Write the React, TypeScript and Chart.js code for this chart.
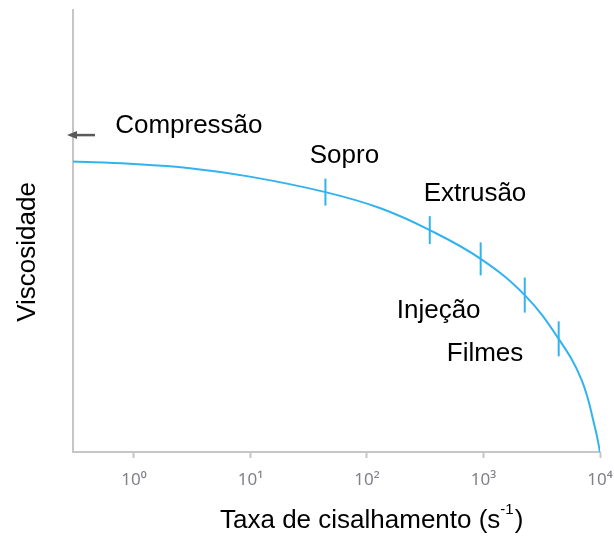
import { useEffect, useRef } from "react";
import { Chart, registerables } from "chart.js";

Chart.register(...registerables);

// flow curve: shear rate (s^-1) vs relative viscosity
const curveRate = [0.3, 0.92, 3.02, 9.9, 44, 129, 346, 946, 2260, 4420, 6950, 9160, 10000];
const curveVisc = [6.57, 6.52, 6.42, 6.23, 5.88, 5.52, 5.02, 4.37, 3.55, 2.56, 1.63, 0.5, 0];

// small vertical marks on the curve (process windows)
const markRate = [44, 346, 946, 2260, 4420];
const markVisc = [5.88, 5.02, 4.37, 3.55, 2.56];
const markHalfLen = [13.5, 14, 16.5, 17.5, 17.5];

const tickValues = [1, 10, 100, 1000, 10000];
const tickExponents = ["⁰", "¹", "²", "³", "⁴"];

const processNames = ["Compressão", "Sopro", "Extrusão", "Injeção", "Filmes"];
const nameRate = [0.69, 32.3, 307, 180, 484];
const nameVisc = [7.22, 6.54, 5.68, 3.03, 2.06];
const compressionVisc = 7.17;

const BLUE = "#33b3ee";
const AXIS_GRAY = "#c6c6c6";
const TEXT_FONT = "26px 'Liberation Sans', Arial, sans-serif";

const annotations = {
  id: "annotations",
  afterDatasetsDraw(chart: Chart) {
    const { ctx, chartArea } = chart;
    const x = chart.scales.x;
    const y = chart.scales.y;
    ctx.save();

    // process labels
    ctx.fillStyle = "#000";
    ctx.font = TEXT_FONT;
    ctx.textAlign = "left";
    ctx.textBaseline = "alphabetic";
    processNames.forEach((name, i) => {
      ctx.fillText(name, x.getPixelForValue(nameRate[i]), y.getPixelForValue(nameVisc[i]));
    });

    // arrow pointing left of the axis (compression)
    const ay = y.getPixelForValue(compressionVisc);
    ctx.strokeStyle = "#5a5a5a";
    ctx.fillStyle = "#5a5a5a";
    ctx.lineWidth = 2.5;
    ctx.beginPath();
    ctx.moveTo(chartArea.left + 22, ay);
    ctx.lineTo(chartArea.left + 2, ay);
    ctx.stroke();
    ctx.beginPath();
    ctx.moveTo(chartArea.left - 6, ay);
    ctx.lineTo(chartArea.left + 4, ay - 4);
    ctx.lineTo(chartArea.left + 4, ay + 4);
    ctx.closePath();
    ctx.fill();

    // y title
    ctx.fillStyle = "#000";
    ctx.font = TEXT_FONT;
    ctx.save();
    ctx.translate(chartArea.left - 38, (chartArea.top + chartArea.bottom) / 2 + 21);
    ctx.rotate(-Math.PI / 2);
    ctx.textAlign = "center";
    ctx.fillText("Viscosidade", 0, 0);
    ctx.restore();

    // x title with superscript
    const tx = chartArea.left + 147;
    const ty = chartArea.bottom + 76;
    const main = "Taxa de cisalhamento (s";
    ctx.textAlign = "left";
    ctx.font = TEXT_FONT;
    ctx.fillText(main, tx, ty);
    const w1 = ctx.measureText(main).width;
    ctx.font = "15px 'Liberation Sans', Arial, sans-serif";
    ctx.fillText("-1", tx + w1, ty - 14);
    const w2 = ctx.measureText("-1").width;
    ctx.font = TEXT_FONT;
    ctx.fillText(")", tx + w1 + w2 + 1, ty);

    ctx.restore();
  },
};

export default function App() {
  const chartRef = useRef<HTMLCanvasElement>(null);
  const chartInstanceRef = useRef<Chart | null>(null);

  useEffect(() => {
    if (!chartRef.current) return;
    if (chartInstanceRef.current) {
      chartInstanceRef.current.destroy();
    }
    const ctx = chartRef.current.getContext("2d");
    if (!ctx) return;

    chartInstanceRef.current = new Chart(ctx, {
      type: "line",
      data: {
        datasets: [
          {
            label: "Viscosidade",
            data: curveRate.map((r, i) => ({ x: r, y: curveVisc[i] })),
            borderColor: BLUE,
            borderWidth: 2,
            pointRadius: 0,
            tension: 0.4,
            fill: false,
          },
          {
            label: "Processos",
            data: markRate.map((r, i) => ({ x: r, y: markVisc[i] })),
            showLine: false,
            pointStyle: "line",
            rotation: 90,
            pointRadius: markHalfLen,
            borderColor: BLUE,
            borderWidth: 2,
          },
        ],
      },
      options: {
        animation: false,
        responsive: true,
        maintainAspectRatio: false,
        layout: { autoPadding: false, padding: { top: 10, right: 14, left: 0, bottom: 0 } },
        plugins: {
          legend: { display: false },
          tooltip: { enabled: false },
        },
        scales: {
          x: {
            type: "logarithmic",
            min: 0.3,
            max: 10000,
            afterBuildTicks: (scale: any) => {
              scale.ticks = tickValues.map((v) => ({ value: v }));
            },
            afterFit: (scale: any) => {
              scale.height = 90;
              scale.paddingLeft = 0;
              scale.paddingRight = 0;
            },
            grid: {
              drawOnChartArea: false,
              drawTicks: true,
              tickLength: 6,
              tickWidth: 2,
              tickColor: AXIS_GRAY,
            },
            border: { display: true, color: AXIS_GRAY, width: 2 },
            ticks: {
              autoSkip: false,
              maxRotation: 0,
              padding: 12,
              color: "#80808a",
              font: { family: "'Noto Sans', sans-serif", size: 17 },
              callback: (_value: any, index: number) => "10" + tickExponents[index],
            },
          },
          y: {
            type: "linear",
            min: 0,
            max: 10,
            afterFit: (scale: any) => {
              scale.width = 73;
              scale.paddingTop = 0;
              scale.paddingBottom = 0;
            },
            grid: { display: false },
            border: { display: true, color: AXIS_GRAY, width: 2 },
            ticks: { display: false },
          },
        },
      },
      plugins: [annotations],
    });

    return () => {
      if (chartInstanceRef.current) {
        chartInstanceRef.current.destroy();
        chartInstanceRef.current = null;
      }
    };
  }, []);

  return (
    <div style={{ position: "fixed", left: 0, top: 0, width: 614, height: 542, background: "#fff" }}>
      <canvas ref={chartRef} />
    </div>
  );
}
